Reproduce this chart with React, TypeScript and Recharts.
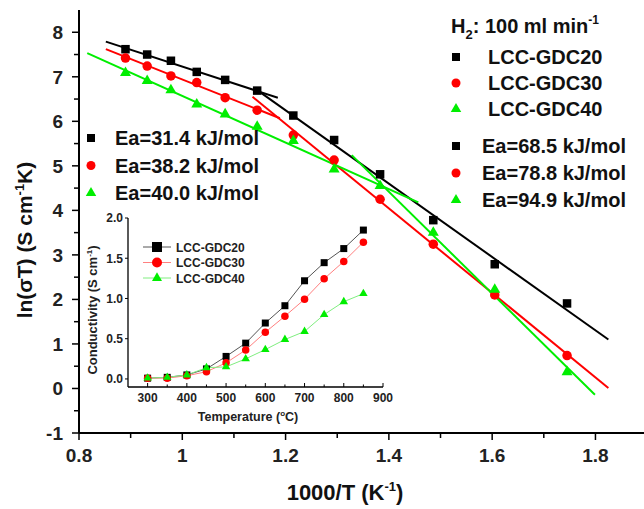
import React from 'react';
import { ComposedChart, LineChart, Line, Scatter, XAxis, YAxis } from 'recharts';

// main plot: ln(sigma*T) against 1000/T
const INV_T = [0.890, 0.932, 0.978, 1.028, 1.083, 1.145, 1.215, 1.294, 1.383, 1.486, 1.605, 1.745];
const LN_GDC20 = [7.62, 7.50, 7.36, 7.11, 6.93, 6.69, 6.13, 5.58, 4.81, 3.78, 2.79, 1.91];
const LN_GDC30 = [7.42, 7.24, 7.02, 6.87, 6.53, 6.25, 5.69, 5.13, 4.25, 3.24, 2.10, 0.74];
const LN_GDC40 = [7.09, 6.91, 6.70, 6.38, 6.16, 5.88, 5.56, 4.92, 4.55, 3.50, 2.22, 0.37];

// fitted Arrhenius lines, end points [x, y]
const FIT20_LOW = [[0.852, 7.79], [1.185, 6.53]];
const FIT20_HIGH = [[1.145, 6.70], [1.825, 1.10]];
const FIT30_LOW = [[0.852, 7.62], [1.189, 6.07]];
const FIT30_HIGH = [[1.136, 6.55], [1.825, 0.01]];
const FIT40_LOW = [[0.816, 7.53], [1.457, 4.18]];
const FIT40_HIGH = [[1.328, 5.24], [1.799, -0.14]];

// inset: conductivity against temperature
const TEMP_C = [300, 350, 400, 450, 500, 550, 600, 650, 700, 750, 800, 850];
const COND_GDC20 = [0.01, 0.02, 0.05, 0.125, 0.28, 0.445, 0.695, 0.91, 1.22, 1.445, 1.62, 1.85];
const COND_GDC30 = [0.01, 0.01, 0.04, 0.09, 0.20, 0.36, 0.58, 0.78, 0.99, 1.245, 1.46, 1.70];
const COND_GDC40 = [0.01, 0.02, 0.05, 0.14, 0.15, 0.25, 0.365, 0.49, 0.59, 0.80, 0.96, 1.06];

const X_TICKS = [0.8, 0.9, 1.0, 1.1, 1.2, 1.3, 1.4, 1.5, 1.6, 1.7, 1.8];
const Y_TICKS = [-1, -0.5, 0, 0.5, 1, 1.5, 2, 2.5, 3, 3.5, 4, 4.5, 5, 5.5, 6, 6.5, 7, 7.5, 8];
const INSET_X_TICKS = [300, 350, 400, 450, 500, 550, 600, 650, 700, 750, 800, 850, 900];
const INSET_Y_TICKS = [0, 0.5, 1, 1.5, 2];

const LEGEND_SERIES = ['LCC-GDC20', 'LCC-GDC30', 'LCC-GDC40'];
const EA_LOW = ['Ea=31.4 kJ/mol', 'Ea=38.2 kJ/mol', 'Ea=40.0 kJ/mol'];
const EA_HIGH = ['Ea=68.5 kJ/mol', 'Ea=78.8 kJ/mol', 'Ea=94.9 kJ/mol'];

const FONT = 'Arial, "Liberation Sans", Helvetica, sans-serif';
const BLACK = '#000000';
const RED = '#ff0000';
const GREEN = '#00ee00';
const COLORS = [BLACK, RED, GREEN];
const KINDS = ['square', 'circle', 'triangle'];

const toPoints = (xs: number[], ys: number[]) => xs.map((x, i) => ({ x, y: ys[i] }));
const pairs = (p: number[][]) => p.map(([x, y]) => ({ x, y }));

const Marker = ({ kind, cx, cy, size, fill }: any) => {
  if (cx == null || cy == null) return <g />;
  if (kind === 'square') {
    return <rect x={cx - size / 2} y={cy - size / 2} width={size} height={size} fill={fill} />;
  }
  if (kind === 'circle') {
    return <circle cx={cx} cy={cy} r={size / 2} fill={fill} />;
  }
  const h = size * 0.87;
  return (
    <polygon
      points={`${cx},${cy - (h * 2) / 3} ${cx - size / 2},${cy + h / 3} ${cx + size / 2},${cy + h / 3}`}
      fill={fill}
    />
  );
};

const MainXTick = (props: any) => {
  const { x, y, payload } = props;
  const v = payload.value;
  const major = Math.round(v * 10) % 2 === 0;
  return (
    <g>
      <line x1={x} x2={x} y1={y} y2={y + (major ? 7 : 5)} stroke={BLACK} strokeWidth={1.5} />
      {major && (
        <text x={x} y={y + 29} textAnchor="middle" fontSize={19} fontWeight="bold" fontFamily={FONT} fill="#222">
          {String(parseFloat(v.toFixed(1)))}
        </text>
      )}
    </g>
  );
};

const MainYTick = (props: any) => {
  const { x, y, payload } = props;
  const v = payload.value;
  const major = Number.isInteger(v);
  return (
    <g>
      <line x1={x - (major ? 7 : 5)} x2={x} y1={y} y2={y} stroke={BLACK} strokeWidth={1.5} />
      {major && (
        <text x={x - 16} y={y} dy="0.36em" textAnchor="end" fontSize={19} fontWeight="bold" fontFamily={FONT} fill="#222">
          {String(v)}
        </text>
      )}
    </g>
  );
};

const InsetXTick = (props: any) => {
  const { x, y, payload } = props;
  const v = payload.value;
  const major = v % 100 === 0;
  return (
    <g>
      <line x1={x} x2={x} y1={y} y2={y - (major ? 4 : 2.5)} stroke={BLACK} strokeWidth={1} />
      {major && (
        <text x={x} y={y + 15} textAnchor="middle" fontSize={12} fontWeight="bold" fontFamily={FONT} fill="#222">
          {v}
        </text>
      )}
    </g>
  );
};

const InsetYTick = (props: any) => {
  const { x, y, payload } = props;
  return (
    <g>
      <line x1={x - 3} x2={x} y1={y} y2={y} stroke={BLACK} strokeWidth={1} />
      <text x={x - 5} y={y} dy="0.36em" textAnchor="end" fontSize={12} fontWeight="bold" fontFamily={FONT} fill="#222">
        {payload.value.toFixed(1)}
      </text>
    </g>
  );
};

const fits = [
  { pts: FIT20_LOW, color: BLACK },
  { pts: FIT20_HIGH, color: BLACK },
  { pts: FIT30_LOW, color: RED },
  { pts: FIT30_HIGH, color: RED },
  { pts: FIT40_LOW, color: GREEN },
  { pts: FIT40_HIGH, color: GREEN },
];

const mainSeries = [LN_GDC20, LN_GDC30, LN_GDC40];
const mainSizes = [8.5, 9.5, 11];

const insetData = TEMP_C.map((t, i) => ({ t, a: COND_GDC20[i], b: COND_GDC30[i], c: COND_GDC40[i] }));
const insetKeys = ['a', 'b', 'c'];
const insetLineColors = ['#555555', '#ff8080', '#80ee80'];
const insetSizes = [7, 7.5, 8.5];

const Inset = () => (
  <div style={{ position: 'absolute', left: 80, top: 212 }}>
    <LineChart width={330} height={215} data={insetData} margin={{ top: 6, right: 27, bottom: 0, left: 0 }}>
      <XAxis
        dataKey="t"
        type="number"
        domain={[250, 900]}
        ticks={INSET_X_TICKS}
        interval={0}
        allowDataOverflow
        height={40}
        tickSize={0}
        tickMargin={0}
        tickLine={false}
        tick={<InsetXTick />}
        axisLine={{ stroke: BLACK, strokeWidth: 1.3 }}
      />
      <XAxis xAxisId="top" orientation="top" type="number" domain={[250, 900]} height={0} tick={false} tickLine={false} axisLine={{ stroke: BLACK, strokeWidth: 1.3 }} />
      <YAxis
        type="number"
        domain={[-0.1, 2]}
        ticks={INSET_Y_TICKS}
        interval={0}
        allowDataOverflow
        width={48}
        tickSize={0}
        tickMargin={0}
        tickLine={false}
        tick={<InsetYTick />}
        axisLine={{ stroke: BLACK, strokeWidth: 1.3 }}
      />
      <YAxis yAxisId="right" orientation="right" type="number" domain={[-0.1, 2]} width={0} tick={false} tickLine={false} axisLine={{ stroke: BLACK, strokeWidth: 1.3 }} />
      {insetKeys.map((k, s) => (
        <Line
          key={k}
          dataKey={k}
          type="linear"
          stroke={insetLineColors[s]}
          strokeWidth={1}
          isAnimationActive={false}
          dot={(p: any) => <Marker key={p.index} kind={KINDS[s]} cx={p.cx} cy={p.cy} size={insetSizes[s]} fill={COLORS[s]} />}
          activeDot={false}
        />
      ))}
    </LineChart>
  </div>
);

const Overlay = () => (
  <svg width={644} height={509} style={{ position: 'absolute', left: 0, top: 0, pointerEvents: 'none' }} fontFamily={FONT} fontWeight="bold">
    {/* axis titles */}
    <text transform="translate(32,240) rotate(-90)" textAnchor="middle" fontSize={21} fill="#111">
      ln(σT) (S cm<tspan dy={-8} fontSize={13}>-1</tspan>
      <tspan dy={8}>K)</tspan>
    </text>
    <text x={345} y={500} textAnchor="middle" fontSize={22} fill="#111">
      1000/T (K<tspan dy={-9} fontSize={13}>-1</tspan>
      <tspan dy={9}>)</tspan>
    </text>
    <text transform="translate(97,310) rotate(-90)" textAnchor="middle" fontSize={13} fill="#222">
      Conductivity (S cm<tspan dy={-5} fontSize={8}>-1</tspan>
      <tspan dy={5}>)</tspan>
    </text>
    <text x={248} y={421} textAnchor="middle" fontSize={12.5} fill="#222">
      Temperature (<tspan dy={-5} fontSize={8}>o</tspan>
      <tspan dy={5}>C)</tspan>
    </text>

    {/* top-right legend */}
    <text x={451} y={33} fontSize={20} fill="#111">
      H<tspan dy={6} fontSize={13}>2</tspan>
      <tspan dy={-6}>: 100 ml min</tspan>
      <tspan dy={-9} fontSize={12}>-1</tspan>
    </text>
    {LEGEND_SERIES.map((name, i) => (
      <g key={name}>
        <Marker kind={KINDS[i]} cx={456} cy={57 + i * 26} size={mainSizes[i] - 0.5} fill={COLORS[i]} />
        <text x={488} y={57 + i * 26 + 7} fontSize={20} fill="#111">{name}</text>
      </g>
    ))}
    {EA_HIGH.map((label, i) => (
      <g key={label}>
        <Marker kind={KINDS[i]} cx={456} cy={146 + i * 27} size={mainSizes[i] - 0.5} fill={COLORS[i]} />
        <text x={482} y={146 + i * 27 + 7} fontSize={20} fill="#111">{label}</text>
      </g>
    ))}
    {EA_LOW.map((label, i) => (
      <g key={label}>
        <Marker kind={KINDS[i]} cx={91} cy={138 + i * 27.5} size={mainSizes[i] - 0.5} fill={COLORS[i]} />
        <text x={115} y={138 + i * 27.5 + 7} fontSize={20} fill="#111">{label}</text>
      </g>
    ))}

    {/* inset legend */}
    {LEGEND_SERIES.map((name, i) => (
      <g key={'in' + name}>
        <line x1={143} x2={171} y1={247 + i * 15.5} y2={247 + i * 15.5} stroke={insetLineColors[i]} strokeWidth={1} />
        <Marker kind={KINDS[i]} cx={157} cy={247 + i * 15.5} size={10} fill={COLORS[i]} />
        <text x={176} y={247 + i * 15.5 + 4.5} fontSize={12} fill="#222">{name}</text>
      </g>
    ))}
  </svg>
);

export default function App() {
  return (
    <div style={{ position: 'absolute', left: 0, top: 0, width: 644, height: 509, overflow: 'hidden', background: '#fff' }}>
      <ComposedChart width={644} height={509} margin={{ top: 10, right: 0, bottom: 0, left: 0 }}>
        <XAxis
          dataKey="x"
          type="number"
          domain={[0.8, 1.894]}
          ticks={X_TICKS}
          interval={0}
          allowDataOverflow
          height={76}
          tickSize={0}
          tickMargin={0}
          tickLine={false}
          tick={<MainXTick />}
          axisLine={{ stroke: BLACK, strokeWidth: 2 }}
        />
        <XAxis xAxisId="top" orientation="top" type="number" domain={[0.8, 1.894]} height={0} tick={false} tickLine={false} axisLine={{ stroke: BLACK, strokeWidth: 2 }} />
        <YAxis
          dataKey="y"
          type="number"
          domain={[-1, 8.5]}
          ticks={Y_TICKS}
          interval={0}
          allowDataOverflow
          width={79}
          tickSize={0}
          tickMargin={0}
          tickLine={false}
          tick={<MainYTick />}
          axisLine={{ stroke: BLACK, strokeWidth: 2 }}
        />
        {fits.map((f, i) => (
          <Line
            key={'fit' + i}
            data={pairs(f.pts)}
            dataKey="y"
            type="linear"
            stroke={f.color}
            strokeWidth={2}
            dot={false}
            activeDot={false}
            isAnimationActive={false}
          />
        ))}
        {mainSeries.map((ys, s) => (
          <Scatter
            key={'pts' + s}
            data={toPoints(INV_T, ys)}
            isAnimationActive={false}
            shape={(p: any) => <Marker kind={KINDS[s]} cx={p.cx} cy={p.cy} size={mainSizes[s]} fill={COLORS[s]} />}
          />
        ))}
      </ComposedChart>
      <Inset />
      <Overlay />
    </div>
  );
}
